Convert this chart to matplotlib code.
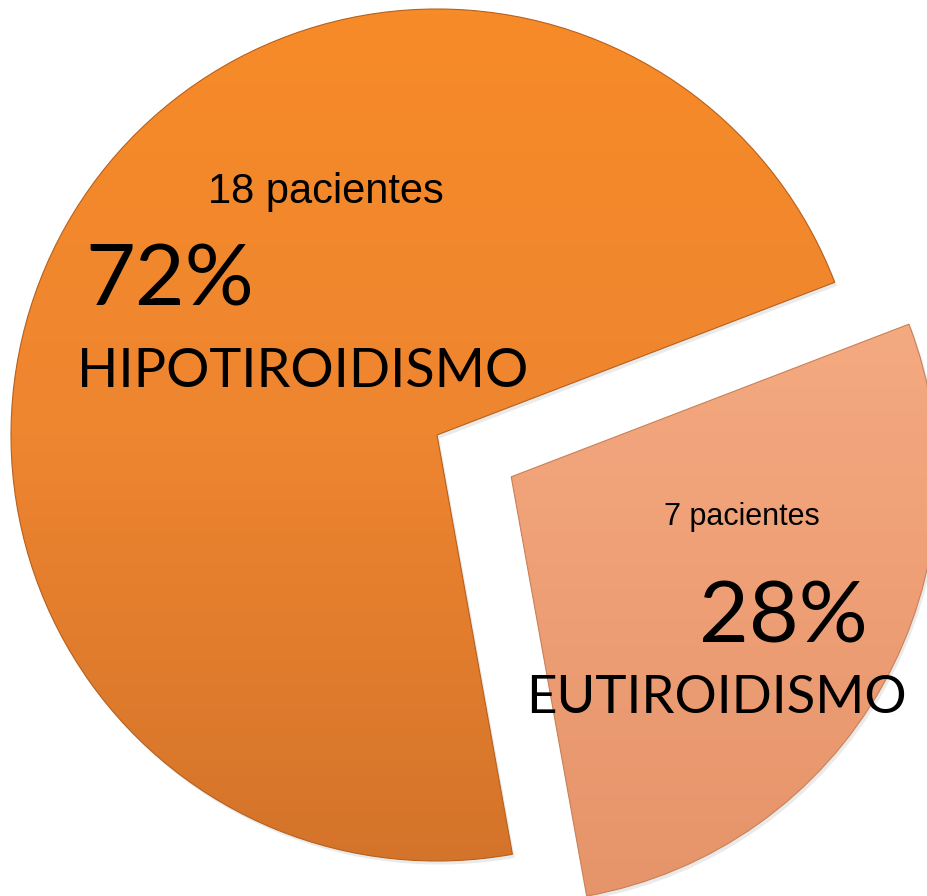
import matplotlib
matplotlib.use('Agg')
import matplotlib.pyplot as plt
import numpy as np
from matplotlib.colors import LinearSegmentedColormap
from matplotlib.patches import Shadow

categories = ['HIPOTIROIDISMO', 'EUTIROIDISMO']
percentages = [72, 28]
patient_labels = ['18 pacientes', '7 pacientes']
percent_labels = ['72%', '28%']
explode = [0, 0.2]

W, H = 927, 896
cx, cy, R = 437, 435, 426  # pie centre and radius in pixels

fig = plt.figure(figsize=(W / 100, H / 100), dpi=100)
ax = fig.add_axes([0, 0, 1, 1])

wedges, _ = ax.pie(percentages, explode=explode, startangle=21,
                   colors=['#EE8530', '#F2A57A'], radius=1, center=(0, 0))

grads = [('#D4742A', '#EE8530', '#F78B28'), ('#E6946A', '#F1A37A', '#FAB68B')]
edges = ['#B8601C', '#C98058']
g = np.linspace(0, 1, 256).reshape(-1, 1)
for w, cols, ec in zip(wedges, grads, edges):
    sh = Shadow(w, 0.004, -0.006, alpha=0.15, zorder=1)
    sh.set_facecolor('#777777')
    sh.set_edgecolor('none')
    ax.add_patch(sh)
    cmap = LinearSegmentedColormap.from_list('g', list(cols))
    ccx, ccy = w.center
    im = ax.imshow(g, extent=(ccx - 1, ccx + 1, ccy - 1, ccy + 1), origin='lower',
                   cmap=cmap, aspect='auto', zorder=2, interpolation='bilinear')
    im.set_clip_path(w)
    w.set_facecolor('none')
    w.set_edgecolor(ec)
    w.set_linewidth(0.8)
    w.set_zorder(3)

ax.set_xlim(-cx / R, (W - cx) / R)
ax.set_ylim(-(H - cy) / R, cy / R)
ax.set_aspect('auto')
ax.axis('off')

def px(x, y):
    return ((x - cx) / R, (cy - y) / R)

calibri = ['Lato', 'DejaVu Sans']
arial = ['Liberation Sans', 'DejaVu Sans']

ax.text(*px(326, 203), patient_labels[0], ha='center', va='baseline',
        fontsize=30, family=arial, color='black', zorder=5)
ax.text(*px(170, 305), percent_labels[0], ha='center', va='baseline',
        fontsize=62, family=calibri, color='black', zorder=5)
ax.text(*px(303, 387), categories[0], ha='center', va='baseline',
        fontsize=39, family=calibri, color='black', zorder=5)

ax.text(*px(742, 525), patient_labels[1], ha='center', va='baseline',
        fontsize=22, family=arial, color='black', zorder=5)
ax.text(*px(783, 642), percent_labels[1], ha='center', va='baseline',
        fontsize=62, family=calibri, color='black', zorder=5)
ax.text(*px(716, 713), categories[1], ha='center', va='baseline',
        fontsize=38, family=calibri, color='black', zorder=5)

fig.savefig('out.png', dpi=100, facecolor='white')
